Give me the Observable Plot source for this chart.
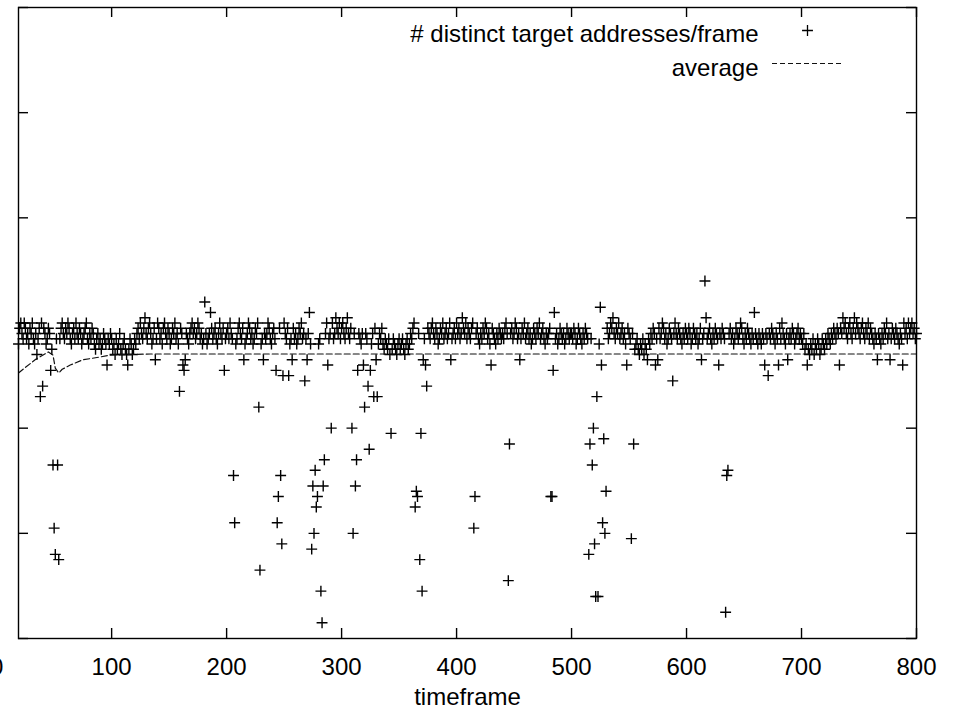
<!DOCTYPE html>
<html><head><meta charset="utf-8">
<script src="https://cdn.jsdelivr.net/npm/d3@7"></script>
<script src="https://cdn.jsdelivr.net/npm/@observablehq/plot@0.6"></script>
<style>html,body{margin:0;padding:0;background:#fff;overflow:hidden}</style>
</head><body><div id="chart"></div>
<script>
// ---- data: # distinct target addresses per frame ----
const xTicks = [0, 100, 200, 300, 400, 500, 600, 700, 800];
const yTicks = [0, 20, 40, 60, 80, 100, 120];
const legendLabels = ["# distinct target addresses/frame", "average"];
const axisTitle = "timeframe";

// band values, one per frame, segment start frames in bandStarts
const bandStarts = [19, 100, 200, 300, 400, 500, 600, 700];
const band019 = [56,59,60,58,57,60,59,57,58,56, 59,58,60,57,56,58,57,57,59,58, 60,57,59,58,56,57,59,58,56,57, 58,60,59,57,58,56,57,59,60,58, 57,59,58,60,59,57,56,58,59,57, 60,58,57,59,58,56,57,58,59,60, 57,56,58,57,59,58,56,55,57,58, 56,57,55,56,58,57,56,55,57,56, 58];
const band100 = [57,55,56,54,57,55,56,58,55,54, 56,57,55,54,56,55,57,56,54,55, 57,56,58,59,57,60,58,57,59,61, 58,57,59,60,58,56,57,59,58,57, 60,59,57,58,56,59,60,58,57,59, 58,56,57,59,58,60,57,58,56,57, 59,58,57,60,59,58,57,56,58,59, 60,58,59,57,58,60,59,57,58,56, 57,59,58,56,57,58,60,59,57,58, 59,57,56,58,60,58,57,59,58,57];
const band200 = [58,59,57,60,58,57,59,58,56,57, 59,60,58,57,59,58,56,57,58,60, 59,57,58,56,57,59,58,60,57,58, 56,57,59,58,57,58,60,59,57,56, 58,59,57,58,56,57,59,58,57,58, 60,58,57,59,58,56,57,58,59,57, 58,56,57,59,58,60,57,58,56,57, 59,58,57,56,58,57,59,58,57,58, 56,57,58,59,57,61,58,60,59,57, 58,59,60,57,58,61,59,58,60,57];
const band300 = [59,60,58,57,59,61,58,57,59,58, 57,58,56,57,59,58,57,56,58,57, 56,58,57,59,58,57,56,58,57,59, 58,57,56,58,57,59,56,55,57,56, 55,57,54,56,55,57,56,55,54,56, 57,55,56,57,55,54,56,57,55,56, 58,57,59,60,58,57,59,58,57,56, 58,59,57,58,60,59,58,57,59,60, 58,57,59,58,56,57,59,58,60,57, 58,59,57,58,60,59,57,58,59,57];
const band400 = [60,58,59,57,58,61,59,58,60,57, 59,58,57,59,60,58,57,58,59,57, 56,58,57,59,58,60,59,57,58,56, 57,59,58,57,56,58,57,59,58,57, 58,57,59,60,58,57,56,58,59,57, 58,60,59,57,58,56,57,59,58,60, 57,58,59,57,58,56,57,59,58,57, 59,58,60,57,58,59,57,56,58,57, 58,59,57,58,60,59,57,58,56,57, 59,58,57,58,56,57,59,58,57,58];
const band500 = [58,57,59,58,56,57,59,58,57,56, 58,57,59,58,57,56,58,57,59,58, 57,58,59,57,56,58,57,59,58,60, 58,59,57,58,60,59,61,58,57,59, 58,60,57,58,59,57,58,56,57,59, 58,57,56,58,57,55,56,57,55,54, 56,55,57,54,56,55,53,57,56,58, 57,59,58,56,57,58,59,57,58,60, 59,57,58,56,57,59,58,57,59,58, 60,58,57,59,58,57,56,58,57,59];
const band600 = [58,57,59,58,56,57,59,58,57,58, 56,57,59,58,57,58,60,61,57,58, 59,57,56,58,57,59,58,57,56,58, 57,59,58,57,58,56,57,58,59,57, 58,56,57,59,58,57,58,60,59,57, 56,58,57,59,58,57,56,58,57,59, 58,57,56,58,57,56,58,57,59,58, 57,56,58,57,59,58,57,56,58,57, 58,59,57,60,58,57,56,58,59,57, 58,57,59,58,56,57,58,59,57,58];
const band700 = [57,56,58,55,56,57,55,54,56,55, 57,54,56,55,57,56,54,55,57,56, 55,57,56,58,57,56,58,57,59,58, 57,59,58,60,59,58,61,59,60,58, 57,59,60,58,57,59,61,58,60,59, 58,57,59,60,58,57,59,58,60,57, 59,58,57,56,58,57,59,58,57,56, 58,57,59,58,60,57,58,56,57,59, 58,57,59,58,57,56,58,57,59,60, 58,59,57,60,58,59,60,58,59,57, 58];

// frames whose value lies off the main band
const outlierFrames = [35,38,40,47,48,49,50,51,53,54,96,114,138,159,162,163,164,181,186,198,206,207,215,228,229,232,243,244,245,247,248,249,254,257,268,270,272,274,275,276,277,278,279,282,283,284,285,288,291,309,310,312,313,314,319,320,323,324,325,328,330,331,343,364,365,366,368,369,370,371,373,374,395,415,416,430,445,446,455,482,483,484,485,515,516,518,519,520,521,522,523,525,526,527,528,529,530,548,552,554,573,575,588,613,616,628,634,635,636,659,668,671,680,688,705,733,766,777,788];
const outlierValues = [54,46,48,51,55,33,21,16,33,15,52,52,53,47,52,51,53,64,62,51,31,22,53,44,13,53,51,22,27,31,18,50,50,53,49,53,62,17,29,20,32,25,27,9,3,29,34,52,40,40,20,29,34,51,52,44,48,36,51,46,53,46,39,25,28,27,15,39,9,53,52,48,53,21,27,52,11,37,53,27,27,51,62,16,37,33,40,18,8,46,8,63,52,22,38,20,28,52,19,37,52,53,49,53,68,52,5,31,32,62,52,50,52,53,52,52,53,53,52];

// running average (dashed line)
const avgFrames = [19, 23, 34, 45, 49, 51, 54, 57, 64, 75, 89, 99, 134, 800];
const avgValues = [50.5, 51.2, 53.1, 54.5, 53.9, 51.4, 50.5, 51.2, 52.0, 53.0, 53.5, 53.9, 54.1, 54.1];

// ---- assemble ----
const byFrame = new Map();
[band019, band100, band200, band300, band400, band500, band600, band700].forEach((seg, i) => {
  seg.forEach((v, j) => byFrame.set(bandStarts[i] + j, v));
});
outlierFrames.forEach((f, i) => byFrame.set(f, outlierValues[i]));
const points = Array.from(byFrame, ([frame, value]) => ({frame, value})).sort((a, b) => a.frame - b.frame);
const average = avgFrames.map((frame, i) => ({frame, value: avgValues[i]}));

const xMin = 19, xMax = 800, yMin = 0, yMax = 120;
const W = 953, H = 719, mL = 18, mR = 37, mT = 7, mB = 81;
const plotW = W - mL - mR, plotH = H - mT - mB;
const ink = "#000";

const chart = Plot.plot({
  width: W, height: H,
  marginLeft: mL, marginRight: mR, marginTop: mT, marginBottom: mB,
  style: {fontFamily: "'Liberation Sans', Arial, Helvetica, sans-serif", fontSize: "24px", background: "#fff", color: ink, overflow: "visible"},
  x: {domain: [xMin, xMax]},
  y: {domain: [yMin, yMax], axis: null},
  marks: [
    Plot.dot(points, {x: "frame", y: "value", symbol: "plus", r: 3.6, stroke: ink, strokeWidth: 1.4}),
    Plot.line(average, {x: "frame", y: "value", stroke: "#111", strokeWidth: 1.2, strokeDasharray: "6,3"}),
    Plot.frame({stroke: ink, strokeWidth: 1.4}),
    Plot.ruleX(xTicks.filter(d => d >= xMin), {x: d => d, insetTop: plotH - 10, stroke: ink, strokeWidth: 1.4}),
    Plot.ruleX(xTicks.filter(d => d >= xMin), {x: d => d, insetBottom: plotH - 10, stroke: ink, strokeWidth: 1.4}),
    Plot.ruleY(yTicks, {y: d => d, insetRight: plotW - 10, stroke: ink, strokeWidth: 1.4}),
    Plot.ruleY(yTicks, {y: d => d, insetLeft: plotW - 10, stroke: ink, strokeWidth: 1.4}),
    Plot.axisX(xTicks, {anchor: "bottom", tickSize: 0, tickPadding: 19, fontSize: 24, label: null}),
    Plot.text([axisTitle], {frameAnchor: "bottom", dy: 66, fontSize: 24, fill: ink}),
    // legend
    Plot.text([legendLabels[0]], {frameAnchor: "top-right", textAnchor: "end", dx: -158, dy: 17, fontSize: 24, fill: ink}),
    Plot.text([legendLabels[1]], {frameAnchor: "top-right", textAnchor: "end", dx: -158, dy: 51, fontSize: 24, fill: ink}),
    Plot.dot([legendLabels[0]], {x: () => xMax, y: () => yMax, dx: -109, dy: 23, symbol: "plus", r: 3.6, stroke: ink, strokeWidth: 1.3}),
    Plot.ruleY([yMax], {insetLeft: 772 - mL, insetRight: W - mR - 842, dy: 56, stroke: "#111", strokeWidth: 1.2, strokeDasharray: "5,3"})
  ]
});
document.getElementById("chart").append(chart);
</script>
</body></html>
